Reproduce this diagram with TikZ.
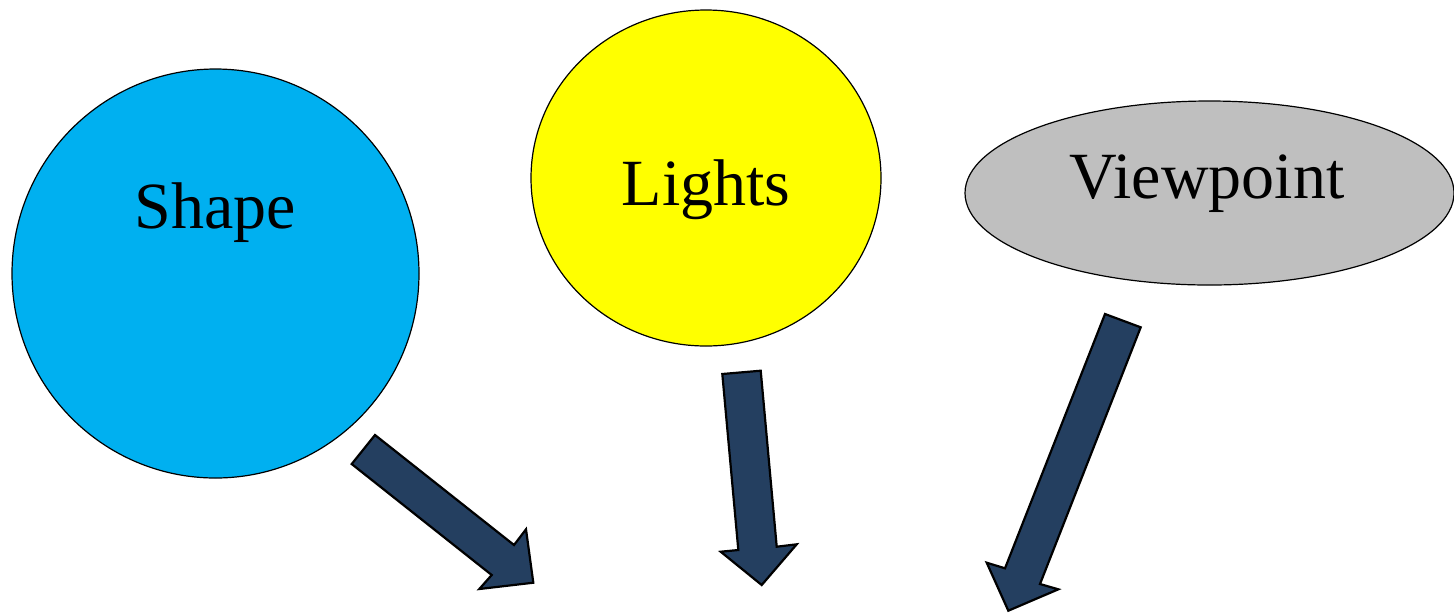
\documentclass[tikz,border=0pt]{standalone}
\usepackage{fontspec}
\setmainfont{Liberation Serif}
\usetikzlibrary{shapes.geometric}
\definecolor{shapeblue}{HTML}{00B0F0}
\definecolor{lightyellow}{HTML}{FFFF00}
\definecolor{viewgray}{HTML}{BFBFBF}
\definecolor{arrownavy}{HTML}{243F60}
\tikzset{
  blob/.style={ellipse, draw=black, line width=0.6pt, inner sep=0pt},
  label text/.style={font=\fontsize{33}{38}\selectfont, anchor=base},
  blockarrow/.style={fill=arrownavy, draw=black, line width=1.1pt, line join=miter}
}
\begin{document}
\begin{tikzpicture}[x=0.5pt, y=-0.5pt]
\useasboundingbox (0,0) rectangle (1454,612);
% shapes
\node[blob, fill=shapeblue, minimum width=203.5pt, minimum height=204.5pt] (shape) at (215.5,273.5) {};
\node[blob, fill=lightyellow, minimum width=175pt, minimum height=168pt] (lights) at (706,178) {};
\node[blob, fill=viewgray, minimum width=244.5pt, minimum height=92pt] (viewpoint) at (1209.5,193) {};
% labels
\node[label text] (shapetxt) at (215,228) {Shape};
\node[label text] (lightstxt) at (706,205) {Lights};
\node[label text] (viewtxt) at (1207,198) {Viewpoint};
% arrows
\draw[blockarrow] (375,435) -- (514,545) -- (526,529.3) -- (533.3,582.7) -- (479.3,589) -- (491.7,575) -- (351.7,464) -- cycle;
\draw[blockarrow] (722.3,374) -- (760.7,370.7) -- (776.7,546.7) -- (796.7,544.3) -- (761.7,585) -- (720.7,551.7) -- (738.3,550) -- cycle;
\draw[blockarrow] (1105,314) -- (1140.7,327.3) -- (1040,584) -- (1058.3,589.3) -- (1008.3,610.7) -- (986.7,562.7) -- (1005,568.3) -- cycle;
\end{tikzpicture}
\end{document}
